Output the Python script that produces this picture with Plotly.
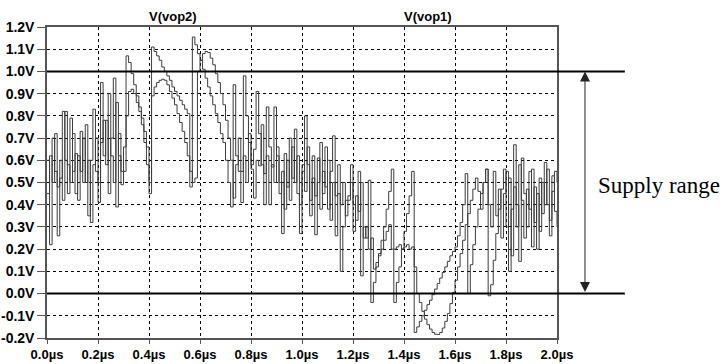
import plotly.graph_objects as go

# Sample period of the transient export, microseconds
SAMPLE_US = 0.01
N_SAMPLES = 201
time_us = [round(i * SAMPLE_US, 2) for i in range(N_SAMPLES)]

# Output node voltages (V), one value per sample
vop2 = [
    0.60, 0.22, 0.70, 0.55, 0.26, 0.52, 0.82, 0.60, 0.45, 0.79,
    0.55, 0.63, 0.42, 0.73, 0.50, 0.76, 0.35, 0.60, 0.83, 0.55,
    0.41, 0.95, 0.62, 0.78, 0.45, 0.70, 0.97, 0.39, 0.72, 0.55,
    0.66, 1.07, 1.04, 0.99, 0.94, 0.89, 0.84, 0.79, 0.73, 0.66,
    0.50, 1.11, 1.09, 1.07, 1.05, 1.02, 1.00, 0.98, 0.96, 0.93,
    0.91, 0.89, 0.87, 0.85, 0.83, 0.81, 0.48, 1.155, 1.12, 1.08,
    1.05, 1.01, 0.97, 0.93, 0.89, 0.85, 0.81, 0.77, 0.72, 0.68,
    0.60, 0.50, 0.39, 0.94, 0.62, 0.55, 0.41, 0.98, 0.80, 0.68,
    0.58, 0.65, 0.91, 0.72, 0.58, 0.40, 0.84, 0.66, 0.57, 0.84,
    0.62, 0.50, 0.27, 0.63, 0.48, 0.70, 0.52, 0.74, 0.45, 0.27,
    0.55, 0.80, 0.58, 0.42, 0.62, 0.265, 0.50, 0.68, 0.45, 0.66,
    0.38, 0.55, 0.71, 0.26, 0.45, 0.10, 0.30, 0.42, 0.44, 0.58,
    0.40, 0.33, 0.55, 0.08, 0.30, 0.25, 0.51, -0.04, 0.05, 0.12,
    0.18, 0.24, 0.30, 0.38, 0.46, 0.56, -0.04, 0.05, 0.12, 0.20,
    0.28, 0.36, 0.44, 0.55, -0.175, -0.15, -0.125, -0.10, -0.075, -0.05,
    -0.03, -0.005, 0.02, 0.045, 0.07, 0.095, 0.12, 0.145, 0.17, 0.19,
    0.21, 0.26, 0.32, 0.40, 0.54, 0.00, 0.13, 0.22, 0.30, 0.38,
    0.45, 0.50, 0.56, -0.01, 0.04, 0.15, 0.27, 0.38, 0.47, 0.56,
    0.30, 0.52, 0.17, 0.67, 0.40, 0.145, 0.61, 0.45, 0.30, 0.55,
    0.21, 0.48, 0.20, 0.52, 0.36, 0.59, 0.40, 0.26, 0.53, 0.37, 0.30,
]

vop1 = [
    0.45, 0.62, 0.50, 0.72, 0.48, 0.60, 0.42, 0.82, 0.58, 0.50,
    0.72, 0.45, 0.62, 0.55, 0.70, 0.50, 0.60, 0.32, 0.58, 0.70,
    0.50, 0.68, 0.78, 0.58, 0.90, 0.62, 0.50, 0.86, 0.62, 0.49,
    0.55, 0.80, 0.91, 0.92, 0.90, 0.86, 0.82, 0.76, 0.68, 0.58,
    0.45, 0.89, 0.93, 0.95, 0.96, 0.965, 0.96, 0.94, 0.91, 0.88,
    0.85, 0.81, 0.77, 0.73, 0.68, 0.62, 0.55, 0.50, 0.52, 1.00,
    1.05, 1.08, 1.09, 1.085, 1.06, 1.03, 0.99, 0.95, 0.90, 0.85,
    0.78, 0.70, 0.60, 0.43, 0.58, 0.70, 0.55, 0.62, 0.50, 0.72,
    0.56, 0.43, 0.60, 0.575, 0.76, 0.54, 0.62, 0.40, 0.58, 0.50,
    0.66, 0.45, 0.55, 0.38, 0.60, 0.42, 0.66, 0.50, 0.62, 0.40,
    0.58, 0.46, 0.66, 0.35, 0.52, 0.44, 0.61, 0.38, 0.55, 0.48,
    0.60, 0.33, 0.50, 0.44, 0.58, 0.40, 0.50, 0.35, 0.42, 0.50,
    0.28, 0.44, 0.37, 0.50, 0.25, 0.30, 0.20, 0.25, 0.11, 0.14,
    0.17, 0.20, 0.24, 0.28, 0.31, 0.20, 0.20, 0.21, 0.22, 0.20,
    0.21, 0.22, 0.20, 0.21, 0.12, 0.00, -0.04, -0.08, -0.115, -0.14,
    -0.16, -0.175, -0.183, -0.184, -0.175, -0.155, -0.125, -0.09, -0.045, 0.005,
    0.06, 0.12, 0.18, 0.24, 0.31, 0.36, 0.42, 0.47, 0.52, 0.46,
    0.38, 0.50, 0.56, 0.40, 0.30, 0.55, 0.35, 0.47, 0.25, 0.45,
    0.55, 0.10, 0.38, 0.48, 0.30, 0.58, 0.42, 0.25, 0.47, 0.38,
    0.56, 0.32, 0.45, 0.28, 0.50, 0.40, 0.56, 0.33, 0.46, 0.55, 0.50,
]

assert len(vop2) == N_SAMPLES and len(vop1) == N_SAMPLES

# Axis ticks
x_ticks = [0.0, 0.2, 0.4, 0.6, 0.8, 1.0, 1.2, 1.4, 1.6, 1.8, 2.0]
x_labels = ["0.0µs", "0.2µs", "0.4µs", "0.6µs", "0.8µs", "1.0µs",
            "1.2µs", "1.4µs", "1.6µs", "1.8µs", "2.0µs"]
y_ticks = [1.2, 1.1, 1.0, 0.9, 0.8, 0.7, 0.6, 0.5, 0.4, 0.3, 0.2, 0.1, 0.0, -0.1, -0.2]
y_labels = ["1.2V", "1.1V", "1.0V", "0.9V", "0.8V", "0.7V", "0.6V", "0.5V",
            "0.4V", "0.3V", "0.2V", "0.1V", "0.0V", "-0.1V", "-0.2V"]

# Supply rails (V)
supply_low = 0.0
supply_high = 1.0

trace_color = "#3c3c3c"
y_tick_font = dict(family="Liberation Sans, Arial, sans-serif", size=14, color="black", weight="bold")
x_tick_font = dict(family="Liberation Sans, Arial, sans-serif", size=13, color="black", weight="bold")

fig = go.Figure()
fig.add_trace(go.Scatter(x=time_us, y=vop2, mode="lines", name="V(vop2)",
                         line=dict(color=trace_color, width=1, shape="hv")))
fig.add_trace(go.Scatter(x=time_us, y=vop1, mode="lines", name="V(vop1)",
                         line=dict(color=trace_color, width=1, shape="hv")))

# Rails, extended past the plot to the range marker
for level in (supply_low, supply_high):
    fig.add_shape(type="line", xref="paper", yref="y", x0=0, x1=1.133,
                  y0=level, y1=level, line=dict(color="black", width=2), layer="above")

# Double-headed arrow between the rails
fig.add_annotation(x=1.0549, y=supply_high, xref="paper", yref="y",
                   ax=0, ay=supply_low, axref="pixel", ayref="y",
                   showarrow=True, arrowside="end+start", arrowhead=2,
                   arrowsize=2, arrowwidth=1, arrowcolor="#222222", text="")
fig.add_annotation(x=1.0765, y=(supply_low + supply_high) / 2 - 0.015, xref="paper", yref="y",
                   text="Supply range", showarrow=False, xanchor="left", yanchor="middle",
                   font=dict(family="Liberation Serif, Times New Roman, serif", size=23, color="black"))

# Trace labels along the top edge
for label, tx in (("V(vop2)", 0.494), ("V(vop1)", 1.494)):
    fig.add_annotation(x=tx, y=1.0, xref="x", yref="paper", yanchor="bottom", yshift=1,
                       text=label, showarrow=False,
                       font=dict(family="Liberation Sans, Arial, sans-serif", size=13,
                                 color="black", weight="bold"))

fig.update_layout(
    width=725, height=364,
    margin=dict(l=47, r=168, t=27, b=26),
    paper_bgcolor="white", plot_bgcolor="white",
    showlegend=False,
    xaxis=dict(range=[0, 2.0], tickvals=x_ticks, ticktext=x_labels, automargin=False,
               showgrid=True, gridcolor="black", gridwidth=1, griddash="3px,3px",
               zeroline=False, showline=True, linecolor="#555555", linewidth=1.5,
               mirror=True, ticks="outside", ticklen=4, tickcolor="#555555",
               tickfont=x_tick_font),
    yaxis=dict(range=[-0.2, 1.2], tickvals=y_ticks, ticktext=y_labels, automargin=False,
               showgrid=True, gridcolor="black", gridwidth=1, griddash="3px,3px",
               zeroline=False, showline=True, linecolor="#555555", linewidth=1.5,
               mirror=True, ticks="outside", ticklen=8, tickcolor="#555555",
               tickfont=y_tick_font),
)

fig.write_html("out.html")
